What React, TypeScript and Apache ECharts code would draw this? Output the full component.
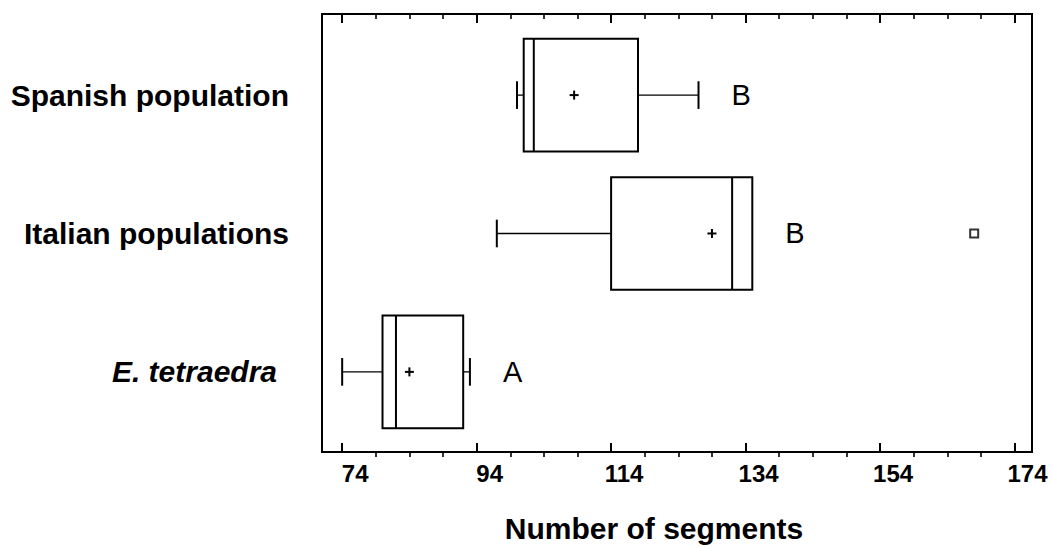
import React, { useEffect, useRef } from "react";
import * as echarts from "echarts";

// Groups, bottom to top on the vertical axis
const groups = ["E. tetraedra", "Italian populations", "Spanish population"];
const italicGroups = [true, false, false];

// Box-and-whisker summaries of the number of segments
const whiskerLow = [74, 97, 100];
const quartile1 = [80, 114, 101];
const medians = [82, 132, 102.5];
const quartile3 = [92, 135, 118];
const whiskerHigh = [93, 135, 127];
const means = [84, 129, 108.5];
const groupLetters = ["A", "B", "B"];

// Outlying observations: [segments, group index]
const outliers = [[168, 1]];

// Axis ticks
const majorTicks = [74, 94, 114, 134, 154, 174];
const minorTicks = [79, 84, 89, 99, 104, 109, 119, 124, 129, 139, 144, 149, 159, 164, 169];

const X_MIN = 71;
const X_MAX = 176.6;
const FONT = "'Liberation Sans', Arial, Helvetica, sans-serif";

export default function App() {
  const ref = useRef<HTMLDivElement>(null);

  useEffect(() => {
    if (!ref.current) return;
    const chart = echarts.init(ref.current, null, { renderer: "svg" });

    const boxData = groups.map((_, i) => [
      i,
      whiskerLow[i],
      quartile1[i],
      medians[i],
      quartile3[i],
      whiskerHigh[i],
      means[i],
    ]);

    // Two grids share the same rectangle: grid 0 carries the data and the
    // major ticks, grid 1 only the minor ticks.
    const gridRect = { left: 322, right: 21, top: 14, bottom: 91 };

    const baseX = {
      type: "value" as const,
      min: X_MIN,
      max: X_MAX,
      splitLine: { show: false },
      axisLine: { show: false, onZero: false },
    };

    const majorTick = {
      show: true,
      inside: true,
      length: 9,
      customValues: majorTicks,
      lineStyle: { color: "#000", width: 2 },
    };
    const minorTick = {
      show: true,
      inside: true,
      length: 5,
      customValues: minorTicks,
      lineStyle: { color: "#000", width: 1.6 },
    };

    const option = {
      animation: false,
      backgroundColor: "#fff",
      grid: [
        {
          ...gridRect,
          show: true,
          borderColor: "#000",
          borderWidth: 2,
          backgroundColor: "transparent",
        },
        { ...gridRect, show: false },
      ],
      xAxis: [
        {
          ...baseX,
          gridIndex: 0,
          position: "bottom",
          axisTick: majorTick,
          axisLabel: {
            show: true,
            customValues: majorTicks,
            margin: 9,
            color: "#000",
            fontSize: 24,
            fontWeight: "bold",
            fontFamily: FONT,
            padding: [0, 0, 0, 26],
          },
          name: "Number of segments",
          nameLocation: "middle",
          nameGap: 61,
          nameTextStyle: {
            color: "#000",
            fontSize: 30,
            fontWeight: "bold",
            fontFamily: FONT,
            padding: [0, 46, 0, 0],
          },
        },
        {
          ...baseX,
          gridIndex: 0,
          position: "top",
          axisTick: majorTick,
          axisLabel: { show: false },
        },
        {
          ...baseX,
          gridIndex: 1,
          position: "bottom",
          axisTick: minorTick,
          axisLabel: { show: false },
        },
        {
          ...baseX,
          gridIndex: 1,
          position: "top",
          axisTick: minorTick,
          axisLabel: { show: false },
        },
      ],
      yAxis: [
        {
          type: "value",
          gridIndex: 0,
          min: -0.579,
          max: 2.586,
          axisLine: { show: false, onZero: false },
          axisTick: { show: false },
          splitLine: { show: false },
          axisLabel: {
            show: true,
            customValues: [0, 1, 2],
            margin: 33,
            formatter: (v: number) => {
              const i = Math.round(v);
              return italicGroups[i] ? `{it|${groups[i]}}` : `{b|${groups[i]}}`;
            },
            rich: {
              b: {
                color: "#000",
                fontSize: 30,
                fontWeight: "bold",
                fontFamily: FONT,
              },
              it: {
                color: "#000",
                fontSize: 30,
                fontWeight: "bold",
                fontStyle: "italic",
                fontFamily: FONT,
                padding: [0, 12, 0, 0],
              },
            },
          },
        },
        {
          type: "value",
          gridIndex: 1,
          min: -0.579,
          max: 2.586,
          show: false,
          axisLine: { show: false, onZero: false },
        },
      ],
      series: [
        {
          type: "custom",
          xAxisIndex: 0,
          yAxisIndex: 0,
          encode: { x: [1, 2, 3, 4, 5, 6], y: 0 },
          data: boxData,
          renderItem: (params: any, api: any) => {
            const g = api.value(0);
            const lo = api.value(1);
            const q1 = api.value(2);
            const med = api.value(3);
            const q3 = api.value(4);
            const hi = api.value(5);
            const mean = api.value(6);
            const band = api.size([0, 1])[1];
            const half = band * 0.407;
            const capHalf = band * 0.1;
            const px = (v: number) => api.coord([v, g])[0];
            const y = api.coord([q1, g])[1];
            const xLo = px(lo);
            const xQ1 = px(q1);
            const xMed = px(med);
            const xQ3 = px(q3);
            const xHi = px(hi);
            const xMean = px(mean);
            const thick = { stroke: "#000", lineWidth: 2, fill: "none" };
            const thin = { stroke: "#000", lineWidth: 1.3, fill: "none" };
            const children: any[] = [
              {
                type: "rect",
                shape: { x: xQ1, y: y - half, width: xQ3 - xQ1, height: half * 2 },
                style: thick,
              },
              {
                type: "line",
                shape: { x1: xMed, y1: y - half, x2: xMed, y2: y + half },
                style: thick,
              },
            ];
            if (lo < q1) {
              children.push(
                { type: "line", shape: { x1: xLo, y1: y, x2: xQ1, y2: y }, style: thin },
                { type: "line", shape: { x1: xLo, y1: y - capHalf, x2: xLo, y2: y + capHalf }, style: thick }
              );
            }
            if (hi > q3) {
              children.push(
                { type: "line", shape: { x1: xQ3, y1: y, x2: xHi, y2: y }, style: thin },
                { type: "line", shape: { x1: xHi, y1: y - capHalf, x2: xHi, y2: y + capHalf }, style: thick }
              );
            }
            // mean marker
            children.push(
              { type: "line", shape: { x1: xMean - 4.5, y1: y, x2: xMean + 4.5, y2: y }, style: thick },
              { type: "line", shape: { x1: xMean, y1: y - 4.5, x2: xMean, y2: y + 4.5 }, style: thick }
            );
            // group letter
            children.push({
              type: "text",
              x: Math.max(xHi, xQ3) + 33,
              y: y,
              style: {
                text: groupLetters[g],
                fill: "#000",
                fontSize: 29,
                fontFamily: FONT,
                align: "left",
                verticalAlign: "middle",
              },
            });
            return { type: "group", children };
          },
        },
        {
          type: "scatter",
          xAxisIndex: 0,
          yAxisIndex: 0,
          data: outliers,
          symbol: "rect",
          symbolSize: 8,
          itemStyle: { color: "#fff", borderColor: "#000", borderWidth: 2 },
        },
      ],
    };

    chart.setOption(option as any);
    return () => chart.dispose();
  }, []);

  return (
    <div
      ref={ref}
      style={{ position: "fixed", left: 0, top: 0, width: 1053, height: 548, background: "#fff" }}
    />
  );
}
